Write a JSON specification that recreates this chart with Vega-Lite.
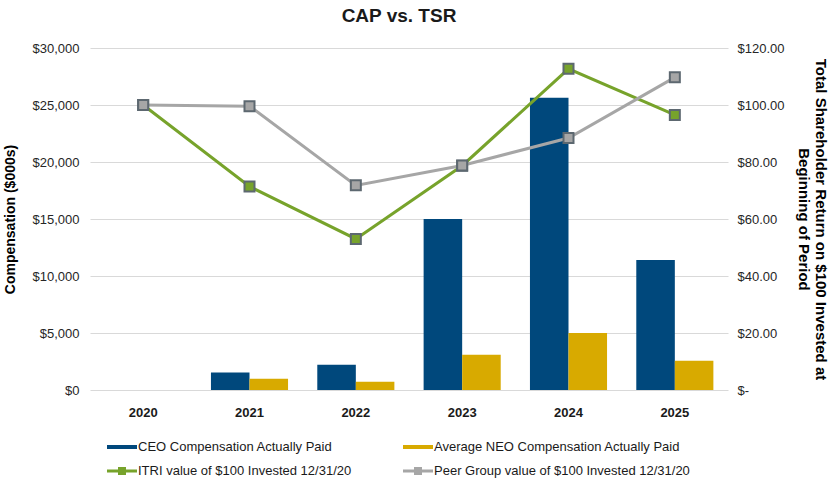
{
  "$schema": "https://vega.github.io/schema/vega-lite/v6.json",
  "autosize": "none",
  "width": 638,
  "height": 342,
  "padding": {"left": 90, "top": 48, "right": 104, "bottom": 88},
  "background": "white",
  "config": {
    "font": "Liberation Sans",
    "view": {"stroke": null},
    "axis": {"labelFont": "Liberation Sans", "titleFont": "Liberation Sans", "labelColor": "#262626", "titleColor": "#000000", "domain": false, "ticks": false, "gridColor": "#d9d9d9", "gridWidth": 1}
  },
  "title": {"text": "CAP vs. TSR", "fontSize": 19, "fontWeight": "bold", "color": "#1a1a1a", "anchor": "middle", "offset": 16, "dx": -10, "font": "Liberation Sans"},
  "data": {
    "values": [
      {"year": "2020", "series": "CEO Compensation Actually Paid", "value": 0},
      {"year": "2021", "series": "CEO Compensation Actually Paid", "value": 1545},
      {"year": "2022", "series": "CEO Compensation Actually Paid", "value": 2220},
      {"year": "2023", "series": "CEO Compensation Actually Paid", "value": 15000},
      {"year": "2024", "series": "CEO Compensation Actually Paid", "value": 25640},
      {"year": "2025", "series": "CEO Compensation Actually Paid", "value": 11400},
      {"year": "2020", "series": "Average NEO Compensation Actually Paid", "value": 0},
      {"year": "2021", "series": "Average NEO Compensation Actually Paid", "value": 990},
      {"year": "2022", "series": "Average NEO Compensation Actually Paid", "value": 730},
      {"year": "2023", "series": "Average NEO Compensation Actually Paid", "value": 3100},
      {"year": "2024", "series": "Average NEO Compensation Actually Paid", "value": 5000},
      {"year": "2025", "series": "Average NEO Compensation Actually Paid", "value": 2570},
      {"year": "2020", "series": "ITRI value of $100 Invested 12/31/20", "value": 100},
      {"year": "2021", "series": "ITRI value of $100 Invested 12/31/20", "value": 71.4},
      {"year": "2022", "series": "ITRI value of $100 Invested 12/31/20", "value": 53.0},
      {"year": "2023", "series": "ITRI value of $100 Invested 12/31/20", "value": 78.7},
      {"year": "2024", "series": "ITRI value of $100 Invested 12/31/20", "value": 112.7},
      {"year": "2025", "series": "ITRI value of $100 Invested 12/31/20", "value": 96.5},
      {"year": "2020", "series": "Peer Group value of $100 Invested 12/31/20", "value": 100},
      {"year": "2021", "series": "Peer Group value of $100 Invested 12/31/20", "value": 99.6},
      {"year": "2022", "series": "Peer Group value of $100 Invested 12/31/20", "value": 71.8},
      {"year": "2023", "series": "Peer Group value of $100 Invested 12/31/20", "value": 78.8},
      {"year": "2024", "series": "Peer Group value of $100 Invested 12/31/20", "value": 88.4},
      {"year": "2025", "series": "Peer Group value of $100 Invested 12/31/20", "value": 109.7}
    ]
  },
  "encoding": {
    "x": {
      "field": "year", "type": "nominal", "sort": null,
      "scale": {"paddingInner": 0.275, "paddingOuter": 0.1375},
      "axis": {"title": null, "labelAngle": 0, "labelFontSize": 13, "labelFontWeight": "bold", "labelPadding": 16, "grid": false, "labelColor": "#1a1a1a"}
    },
    "color": {
      "field": "series", "type": "nominal",
      "scale": {
        "domain": ["CEO Compensation Actually Paid", "Average NEO Compensation Actually Paid", "ITRI value of $100 Invested 12/31/20", "Peer Group value of $100 Invested 12/31/20"],
        "range": ["#00487c", "#d8aa00", "#77a32b", "#a6a6a6"]
      },
      "legend": {
        "title": null,
        "orient": "none",
        "direction": "horizontal",
        "legendX": 17,
        "legendY": 389,
        "columns": 2,
        "columnPadding": 51,
        "rowPadding": 7,
        "padding": 0,
        "symbolSize": 400,
        "labelOffset": 11,
        "labelFontSize": 13,
        "labelColor": "#1a1a1a",
        "labelFont": "Liberation Sans",
        "labelLimit": 400,
        "encode": {
          "symbols": {
            "update": {
              "shape": {"signal": "indexof(['CEO Compensation Actually Paid','Average NEO Compensation Actually Paid'], datum.value) >= 0 ? 'M-1,-0.2H2V0.2H-1Z' : 'M-1,-0.15H2V0.15H-1Z M0.1,-0.4H0.9V0.4H0.1Z'"},
              "fill": {"scale": "color", "field": "value"},
              "stroke": {"value": "transparent"},
              "strokeWidth": {"value": 0},
              "opacity": {"value": 1},
              "size": {"value": 400}
            }
          }
        }
      }
    }
  },
  "layer": [
    {
      "transform": [{"filter": "indexof(['CEO Compensation Actually Paid','Average NEO Compensation Actually Paid'], datum.series) >= 0"}],
      "mark": {"type": "bar"},
      "encoding": {
        "xOffset": {"field": "series", "type": "nominal", "sort": ["CEO Compensation Actually Paid", "Average NEO Compensation Actually Paid"], "scale": {"paddingInner": 0, "paddingOuter": 0}},
        "y": {
          "field": "value", "type": "quantitative",
          "scale": {"domain": [0, 30000], "nice": false},
          "axis": {"orient": "left", "title": "Compensation ($000s)", "titleFontSize": 14, "titleFontWeight": "bold", "titlePadding": 15, "labelFontSize": 13, "labelPadding": 11, "values": [0, 5000, 10000, 15000, 20000, 25000, 30000], "format": "$,.0f", "grid": true}
        }
      }
    },
    {
      "transform": [{"filter": "indexof(['CEO Compensation Actually Paid','Average NEO Compensation Actually Paid'], datum.series) < 0"}],
      "encoding": {
        "y": {
          "field": "value", "type": "quantitative",
          "scale": {"domain": [0, 120], "nice": false},
          "axis": {"orient": "right", "title": ["Total Shareholder Return on $100 Invested at", "Beginning of Period"], "titleFontSize": 15, "titleFontWeight": "bold", "titlePadding": 12, "titleLineHeight": 17, "labelFontSize": 13, "labelPadding": 9, "values": [0, 20, 40, 60, 80, 100, 120], "labelExpr": "datum.value === 0 ? '$-' : '$' + format(datum.value, '.2f')", "grid": false}
        }
      },
      "layer": [
        {"mark": {"type": "line", "strokeWidth": 3}},
        {"mark": {"type": "point", "shape": "square", "filled": true, "size": 100, "stroke": "#5d6870", "strokeWidth": 2, "opacity": 1}}
      ]
    }
  ],
  "resolve": {"scale": {"y": "independent"}}
}
